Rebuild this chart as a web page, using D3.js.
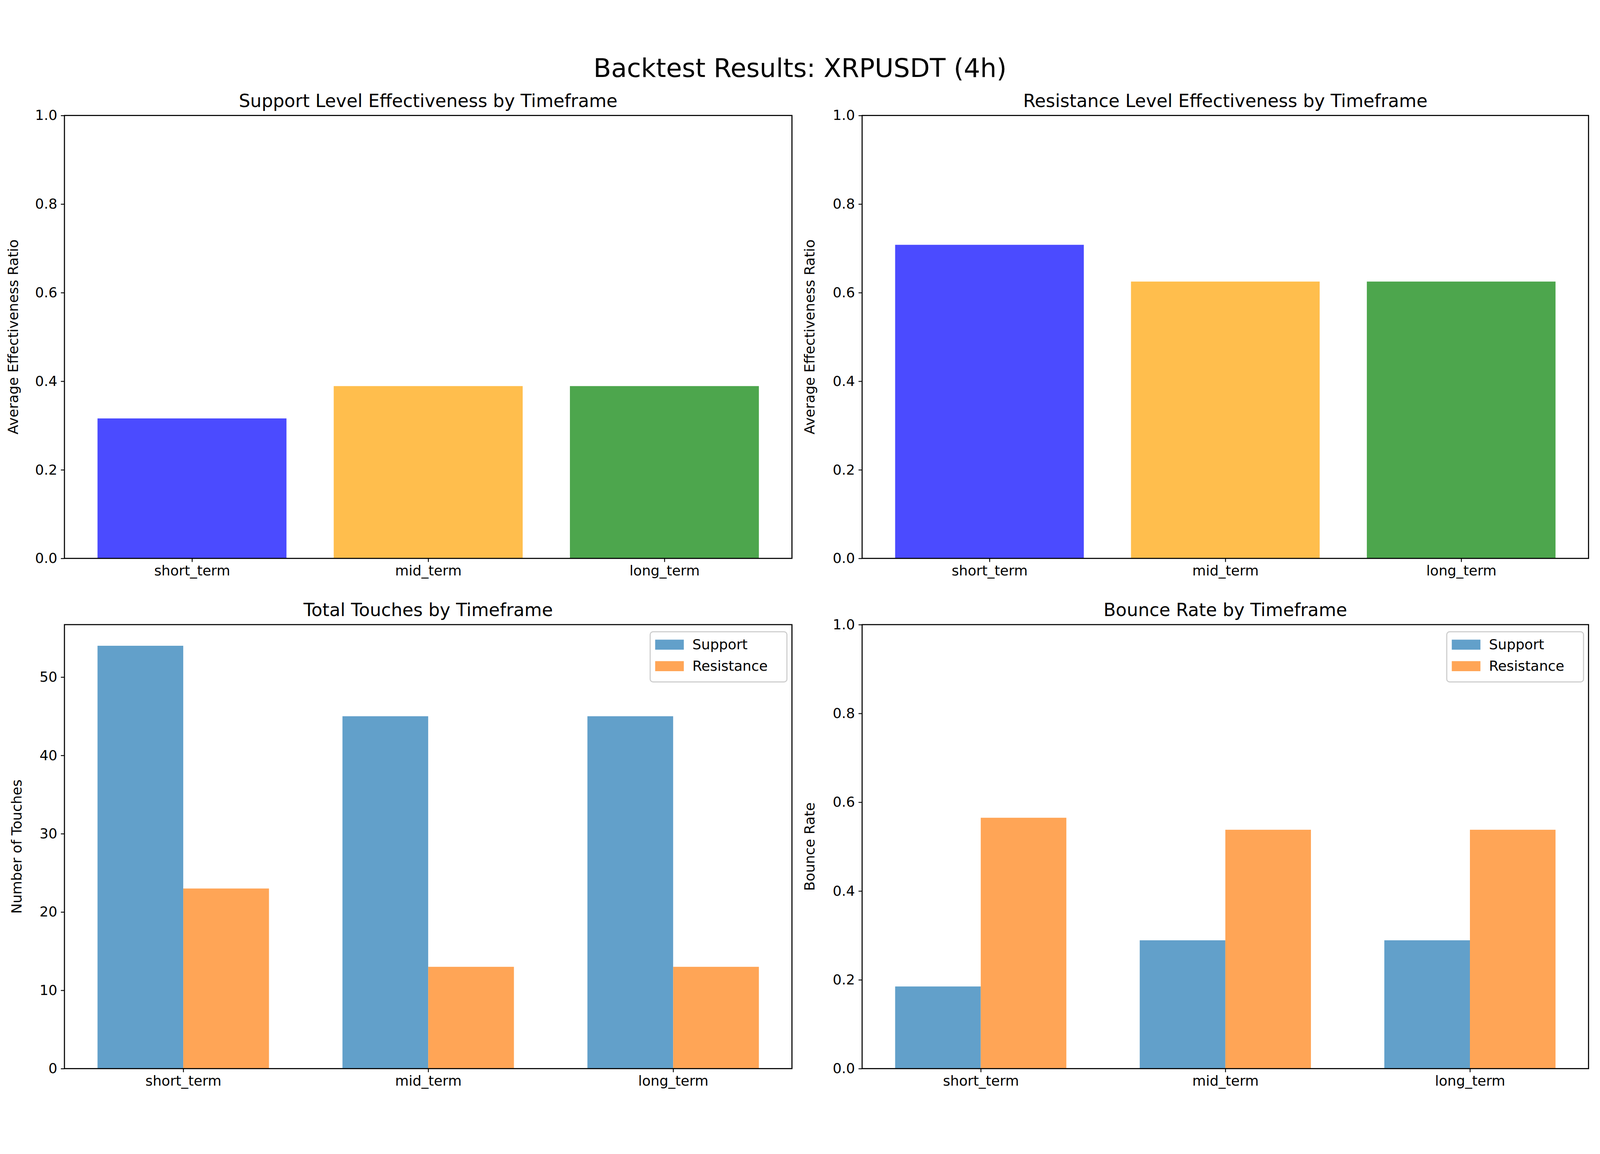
<!DOCTYPE html>
<html><head><meta charset="utf-8">
<script src="https://cdn.jsdelivr.net/npm/d3@7"></script>
<style>html,body{margin:0;padding:0;background:#fff;overflow:hidden}svg{display:block;width:100vw;height:100vh}text{font-family:"DejaVu Sans",sans-serif}</style>
</head><body><svg id="chart"></svg>
<script>
var categories = ["short_term", "mid_term", "long_term"];
var supportEff = [0.316, 0.389, 0.389];
var resistanceEff = [0.708, 0.625, 0.625];
var supportTouches = [54, 45, 45];
var resistanceTouches = [23, 13, 13];
var supportBounce = [0.185, 0.289, 0.289];
var resistanceBounce = [0.565, 0.538, 0.538];
var effColors = ["#4b4bff", "#ffbe4d", "#4da64d"];
var seriesNames = ["Support", "Resistance"];
var seriesColors = ["#62a0ca", "#ffa556"];

var W = 4469, H = 2954;
var svg = d3.select("#chart").attr("viewBox", "0 0 " + W + " " + H).attr("preserveAspectRatio", "xMidYMid meet");
var tickFont = 39, titleFont = 50;

svg.append("text").attr("x", W / 2).attr("y", 80).attr("text-anchor", "middle")
  .style("font-size", "72px").text("Backtest Results: XRPUSDT (4h)");

var panels = [
  { x0: 180, x1: 2212, y0: 188, y1: 1425, title: "Support Level Effectiveness by Timeframe", ylab: "Average Effectiveness Ratio", ymax: 1, ticks: d3.range(0, 1.01, 0.2), fmt: d3.format(".1f"), single: supportEff, labx: 50 },
  { x0: 2408, x1: 4437, y0: 188, y1: 1425, title: "Resistance Level Effectiveness by Timeframe", ylab: "Average Effectiveness Ratio", ymax: 1, ticks: d3.range(0, 1.01, 0.2), fmt: d3.format(".1f"), single: resistanceEff, labx: 2275 },
  { x0: 180, x1: 2212, y0: 1610, y1: 2850, title: "Total Touches by Timeframe", ylab: "Number of Touches", ymax: 56.7, ticks: d3.range(0, 51, 10), fmt: d3.format("d"), pair: [supportTouches, resistanceTouches], labx: 60 },
  { x0: 2408, x1: 4437, y0: 1610, y1: 2850, title: "Bounce Rate by Timeframe", ylab: "Bounce Rate", ymax: 1, ticks: d3.range(0, 1.01, 0.2), fmt: d3.format(".1f"), pair: [supportBounce, resistanceBounce], labx: 2275 }
];

panels.forEach(function (p) {
  var g = svg.append("g");
  var x = d3.scaleLinear().domain(p.single ? [-0.54, 2.54] : [-0.485, 2.485]).range([p.x0, p.x1]);
  var y = d3.scaleLinear().domain([0, p.ymax]).range([p.y1, p.y0]);

  if (p.single) {
    g.selectAll("rect").data(p.single).enter().append("rect")
      .attr("x", function (d, i) { return x(i - 0.4); })
      .attr("width", x(0.8) - x(0))
      .attr("y", function (d) { return y(d); })
      .attr("height", function (d) { return y(0) - y(d); })
      .attr("fill", function (d, i) { return effColors[i]; });
  } else {
    p.pair.forEach(function (vals, s) {
      g.append("g").selectAll("rect").data(vals).enter().append("rect")
        .attr("x", function (d, i) { return x(i - 0.35 + s * 0.35); })
        .attr("width", x(0.35) - x(0))
        .attr("y", function (d) { return y(d); })
        .attr("height", function (d) { return y(0) - y(d); })
        .attr("fill", seriesColors[s]);
    });
    // legend
    var lg = g.append("g").attr("transform", "translate(" + (p.x1 - 396) + "," + (p.y0 + 20) + ")");
    lg.append("rect").attr("width", 382).attr("height", 140).attr("rx", 8)
      .attr("fill", "#fff").attr("stroke", "#ccc").attr("stroke-width", 3);
    seriesNames.forEach(function (n, i) {
      lg.append("rect").attr("x", 14).attr("y", 22 + i * 60).attr("width", 80).attr("height", 28).attr("fill", seriesColors[i]);
      lg.append("text").attr("x", 118).attr("y", 49 + i * 60).style("font-size", tickFont + "px").text(n);
    });
  }

  var yAxis = d3.axisLeft(y).tickValues(p.ticks).tickFormat(p.fmt).tickSize(10).tickPadding(10);
  var ya = g.append("g").attr("transform", "translate(" + p.x0 + ",0)").call(yAxis);
  var xAxis = d3.axisBottom(x).tickValues([0, 1, 2]).tickFormat(function (i) { return categories[i]; }).tickSize(10).tickPadding(10);
  var xa = g.append("g").attr("transform", "translate(0," + p.y1 + ")").call(xAxis);
  [ya, xa].forEach(function (a) {
    a.select(".domain").remove();
    a.selectAll("line").attr("stroke-width", 2.5);
    a.selectAll("text").style("font-size", tickFont + "px").attr("font-family", "DejaVu Sans");
  });

  g.append("rect").attr("x", p.x0).attr("y", p.y0).attr("width", p.x1 - p.x0).attr("height", p.y1 - p.y0)
    .attr("fill", "none").attr("stroke", "#000").attr("stroke-width", 3);

  g.append("text").attr("x", (p.x0 + p.x1) / 2).attr("y", p.y0 - 24).attr("text-anchor", "middle")
    .style("font-size", titleFont + "px").text(p.title);
  g.append("text").attr("transform", "translate(" + p.labx + "," + (p.y0 + p.y1) / 2 + ") rotate(-90)")
    .attr("text-anchor", "middle").style("font-size", tickFont + "px").text(p.ylab);
});
</script></body></html>
